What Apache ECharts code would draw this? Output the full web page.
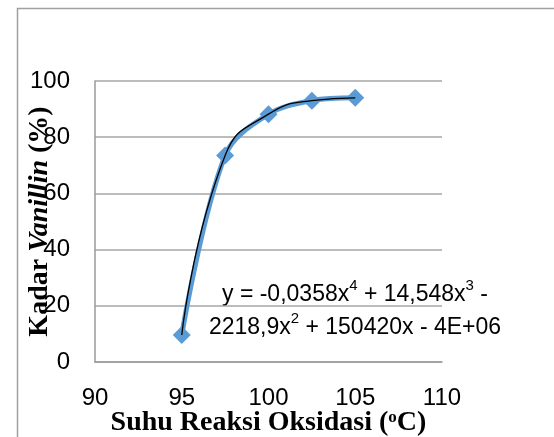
<!DOCTYPE html>
<html>
<head>
<meta charset="utf-8">
<script src="https://cdn.jsdelivr.net/npm/echarts@6/dist/echarts.min.js"></script>
<style>html,body{margin:0;padding:0;background:#fff;}#c{width:554px;height:437px;}</style>
</head>
<body>
<div id="c"></div>
<script>
var temperatures = [95, 97.5, 100, 102.5, 105];
var vanillinYield = [9.6, 73.5, 88.2, 93, 94];
var xTicks = [90, 95, 100, 105, 110];
var yTicks = [0, 20, 40, 60, 80, 100];

var pts = temperatures.map(function (t, i) { return [t, vanillinYield[i]]; });
var chart = echarts.init(document.getElementById('c'));
var tickFont = 'Liberation Sans, Arial, sans-serif';
var titleFont = 'Liberation Serif, Times New Roman, serif';
chart.setOption({
  animation: false,
  backgroundColor: '#fff',
  grid: { left: 95, right: 112, top: 81, bottom: 75, containLabel: false, outerBoundsMode: 'none' },
  xAxis: {
    type: 'value', min: 90, max: 110, interval: 5,
    axisLine: { show: true, lineStyle: { color: '#9a9a9a', width: 1.5 } },
    axisTick: { show: false },
    splitLine: { show: false },
    axisLabel: { color: '#000', fontFamily: tickFont, fontSize: 24, margin: 24,
      formatter: function (v) { return xTicks.indexOf(v) >= 0 ? String(v) : ''; } },
    name: '{b|Suhu Reaksi Oksidasi (}{s|o}{b|C)}',
    nameLocation: 'middle', nameGap: 47, nameMoveOverlap: false,
    nameTextStyle: { rich: {
      b: { fontFamily: titleFont, fontWeight: 'bold', fontSize: 28, color: '#000' },
      s: { fontFamily: titleFont, fontWeight: 'bold', fontSize: 17, color: '#000', verticalAlign: 'top', padding: [0, 0, 10, 0] }
    } }
  },
  yAxis: {
    type: 'value', min: 0, max: 100, interval: 20,
    axisLine: { show: true, lineStyle: { color: '#9a9a9a', width: 1.5 } },
    axisTick: { show: false },
    splitLine: { show: true, lineStyle: { color: '#a6a6a6', width: 1.5 } },
    axisLabel: { color: '#000', fontFamily: tickFont, fontSize: 24, margin: 25,
      formatter: function (v) { return yTicks.indexOf(v) >= 0 ? String(v) : ''; } },
    name: '{b|Kadar }{i|Vanillin}{b| (%)}',
    nameLocation: 'middle', nameGap: 41, nameRotate: 90, nameMoveOverlap: false,
    nameTextStyle: { rich: {
      b: { fontFamily: titleFont, fontWeight: 'bold', fontSize: 28, color: '#000' },
      i: { fontFamily: titleFont, fontWeight: 'bold', fontStyle: 'italic', fontSize: 28, color: '#000' }
    } }
  },
  series: [
    { type: 'line', data: pts, smooth: 0.35,
      lineStyle: { color: '#5B9BD5', width: 5 },
      itemStyle: { color: '#5B9BD5' },
      symbol: 'diamond', symbolSize: 18, z: 2 },
    { type: 'line', data: pts, smooth: 0.5,
      lineStyle: { color: '#000', width: 1.3 },
      symbol: 'none', z: 3 }
  ],
  graphic: [
    { type: 'rect', left: 15, top: 6, shape: { width: 700, height: 600 },
      style: { fill: 'none', stroke: '#a0a0a0', lineWidth: 1.5 }, silent: true },
    { type: 'text', x: 355, y: 278, style: {
      text: '{t|y = -0,0358x}{s|4}{t| + 14,548x}{s|3}{t| -}\n{t|2218,9x}{s|2}{t| + 150420x - 4E+06}',
      align: 'center', verticalAlign: 'top',
      rich: {
        t: { fontFamily: tickFont, fontSize: 23, color: '#000', lineHeight: 33 },
        s: { fontFamily: tickFont, fontSize: 15, color: '#000', verticalAlign: 'top', lineHeight: 33, padding: [0, 0, 12, 0] }
      } } }
  ]
});
</script>
</body>
</html>
